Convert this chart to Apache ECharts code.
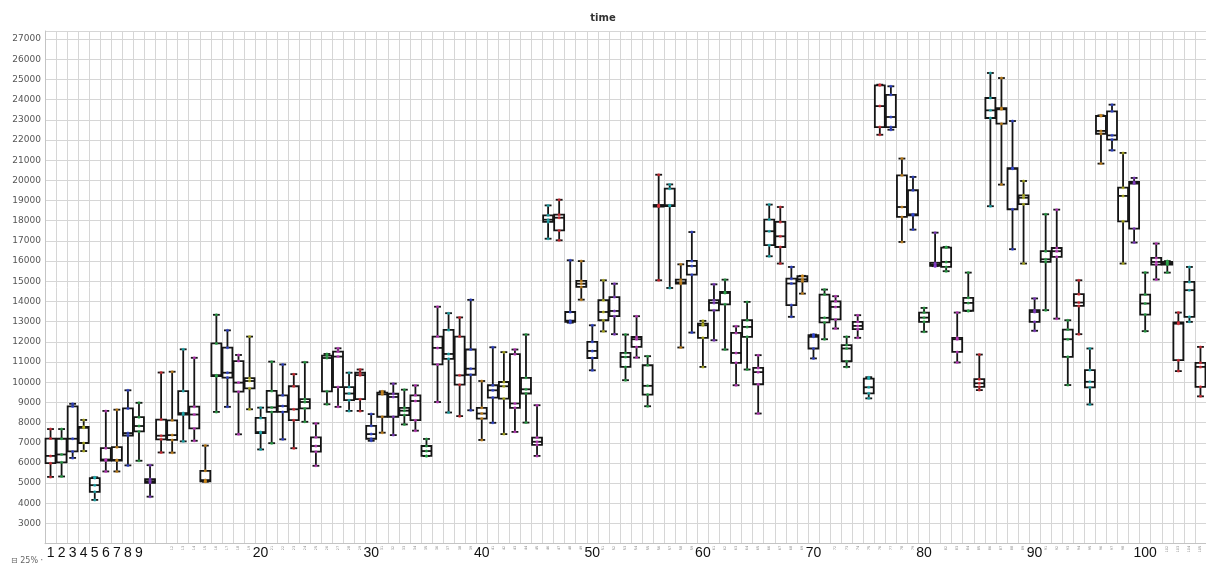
<!DOCTYPE html>
<html>
<head>
<meta charset="utf-8">
<title>time</title>
<script src="https://cdn.jsdelivr.net/npm/echarts@6/dist/echarts.min.js"></script>
<style>
  html, body { margin: 0; padding: 0; background: #fff; }
  #chart { width: 1206px; height: 569px; }
</style>
</head>
<body>
<div id="chart"></div>
<script>
// Run numbers 1..105 on the x axis
const categories = Array.from({ length: 105 }, (_, i) => String(i + 1));

// Five-number summary of "time" for each run
const whiskerLow = [
  5310, 5330, 6250, 6590, 4170, 5580, 5580, 5880, 6110, 4330,
  6520, 6510, 7070, 7100, 5070, 8530, 8780, 7420, 8660, 6670,
  6980, 7170, 6730, 8040, 5860, 8910, 8780, 8580, 8580, 7100,
  7500, 7380, 7910, 7600, 6340, 9020, 8500, 8320, 8610, 7140,
  7990, 7430, 7540, 8000, 6350, 17110, 17030, 12950, 14090, 10590,
  12520, 12380, 10100, 11220, 8810, 15050, 14670, 11720, 12460, 10760,
  12080, 11620, 9850, 10630, 8450, 16240, 15880, 13240, 14390, 11180,
  12130, 12660, 10760, 12200, 9200, 22260, 22510, 16950, 17560, 12500,
  15750, 15500, 10980, 13530, 9610, 18720, 19790, 16590, 15880, 12550,
  13570, 13150, 9860, 12380, 8900, 20830, 21490, 15880, 16920, 12530,
  15090, 15430, 10550, 12990, 9300
];
const quartile1 = [
  5990, 6030, 6570, 6990, 4570, 6120, 6120, 7360, 7560, 5020,
  7170, 7140, 8400, 7710, 5090, 10300, 10230, 9530, 9700, 7480,
  8530, 8530, 8120, 8700, 6560, 9550, 9760, 9110, 9160, 7200,
  8290, 8290, 8370, 8120, 6350, 10880, 11160, 9880, 10370, 8200,
  9240, 9190, 8730, 9440, 6900, 17940, 17520, 12990, 14720, 11200,
  13070, 13270, 10760, 11750, 9390, 18700, 18730, 14880, 15330, 12200,
  13560, 13860, 10960, 12250, 9900, 16790, 16700, 13820, 15000, 11670,
  12960, 13110, 11040, 12630, 9450, 22640, 22640, 18190, 18270, 12990,
  15760, 15710, 11500, 13540, 9770, 23090, 22810, 18570, 18820, 12990,
  15960, 16210, 11260, 13780, 9740, 22310, 22020, 17970, 17610, 13350,
  15830, 15830, 11090, 13240, 9770
];
const median = [
  6350, 6420, 7200, 7740, 4900, 6170, 6150, 7480, 7830, 5100,
  7350, 7380, 8470, 8400, 5150, 10350, 10470, 9980, 10060, 7530,
  8750, 8820, 8660, 9020, 6840, 11200, 11270, 9440, 10350, 7430,
  9400, 9270, 8590, 9070, 6590, 11700, 11400, 10340, 10670, 8450,
  9600, 9800, 8950, 9650, 7050, 18050, 18150, 13050, 14880, 11550,
  13480, 13530, 11250, 12130, 9820, 18740, 18770, 14950, 15760, 12820,
  13930, 14420, 11450, 12740, 10500, 17480, 17230, 14890, 15100, 12250,
  13190, 13730, 11670, 12790, 9750, 23680, 23140, 18680, 18320, 13200,
  15830, 15960, 12130, 13930, 9950, 23470, 23520, 20570, 19140, 13480,
  16090, 16490, 12130, 13950, 10020, 22450, 22230, 19230, 19840, 13900,
  15960, 15900, 12900, 14560, 10760
];
const quartile3 = [
  7210, 7200, 8800, 7790, 5250, 6730, 6780, 8700, 8270, 5200,
  8150, 8110, 9560, 8790, 5610, 11920, 11710, 11050, 10200, 8230,
  9570, 9350, 9800, 9160, 7270, 11320, 11520, 9760, 10470, 7840,
  9480, 9430, 8730, 9350, 6840, 12260, 12590, 12260, 11620, 8730,
  9850, 10010, 11390, 10220, 7260, 18270, 18300, 13480, 15020, 12000,
  14060, 14220, 11450, 12240, 10840, 18780, 19590, 15080, 16010, 12900,
  14060, 14470, 12440, 13070, 10710, 18060, 17940, 15130, 15250, 12330,
  14340, 14010, 11840, 12990, 10180, 24710, 24240, 20250, 19510, 13450,
  15910, 16670, 12200, 14180, 10150, 24080, 23580, 20610, 19260, 13570,
  16490, 16650, 12610, 14360, 10600, 23190, 23420, 19640, 19920, 14340,
  16160, 15960, 12960, 14970, 10960
];
const whiskerHigh = [
  7680, 7680, 8930, 8130, 5290, 8580, 8640, 9600, 8980, 5890,
  10480, 10520, 11630, 11210, 6860, 13340, 12570, 11350, 12260, 8740,
  11020, 10880, 10400, 10990, 7960, 11400, 11680, 10470, 10630, 8420,
  9550, 9930, 9630, 9840, 7190, 13740, 13420, 13210, 14080, 10060,
  11730, 11490, 11620, 12360, 8860, 18760, 19040, 16040, 16000, 12820,
  15050, 14880, 12360, 13270, 11290, 20280, 19800, 15840, 17440, 13040,
  14850, 15080, 12770, 13980, 11340, 18800, 18680, 15710, 15270, 12360,
  14590, 14260, 12250, 13320, 10250, 24740, 24660, 21080, 20170, 13680,
  17410, 16700, 13450, 15430, 11370, 25320, 25070, 22940, 19970, 14150,
  18320, 18550, 13070, 15050, 11670, 23220, 23750, 21360, 20120, 15430,
  16870, 16000, 13450, 15710, 11750
];

// Y axis tick labels
const yTickLabels = [3000, 4000, 5000, 6000, 7000, 8000, 9000, 10000, 11000, 12000, 13000,
  14000, 15000, 16000, 17000, 18000, 19000, 20000, 21000, 22000, 23000, 24000, 25000, 26000, 27000];

// Runs whose number is printed large under the axis
const majorRuns = ['1', '2', '3', '4', '5', '6', '7', '8', '9',
  '20', '30', '40', '50', '60', '70', '80', '90', '100'];
// Runs with no label at all (crowded out by a neighbour)
const unlabeledRuns = ['10', '11', '71', '81', '99', '101'];

// Dot colour per run (one letter per run)
const dotPalette = {
  r: '#e0303a', g: '#2aa84a', b: '#3348d8', o: '#d08a1c',
  t: '#1fb3b8', m: '#c83cc8', p: '#8a3fd0', y: '#b8b820'
};
const dotCodes = 'rgbytmobgp' + 'rotmogbmyt' + 'gbrgmgmtrb' + 'opgmgmtrbo' + 'bymgmtrbob' +
  'ypgmgrtoby' + 'pgmgmtrbob' + 'gmgmtrbobg' + 'pgmgrtobyp' + 'gmgrtobypg' + 'mgrtr';

const boxData = categories.map((c, i) =>
  [i, whiskerLow[i], quartile1[i], median[i], quartile3[i], whiskerHigh[i]]);

const dotData = [];
categories.forEach((c, i) => {
  [whiskerLow, quartile1, median, quartile3, whiskerHigh].forEach(arr => dotData.push([i, arr[i]]));
});

const chart = echarts.init(document.getElementById('chart'), null, { renderer: 'canvas' });

const gridColor = '#d6d6d6';

function renderBox(params, api) {
  const idx = api.value(0);
  const pMin = api.coord([idx, api.value(1)]);
  const pQ1 = api.coord([idx, api.value(2)]);
  const pMed = api.coord([idx, api.value(3)]);
  const pQ3 = api.coord([idx, api.value(4)]);
  const pMax = api.coord([idx, api.value(5)]);
  const band = api.size([1, 0])[0];
  const bw = band * 0.9;
  const cw = band * 0.62;
  const x = pMed[0];
  const line = { stroke: '#151515', lineWidth: 1.8 };
  return {
    type: 'group',
    children: [
      { type: 'line', shape: { x1: x, y1: pMax[1], x2: x, y2: pQ3[1] }, style: line },
      { type: 'line', shape: { x1: x, y1: pQ1[1], x2: x, y2: pMin[1] }, style: line },
      { type: 'line', shape: { x1: x - cw / 2, y1: pMax[1], x2: x + cw / 2, y2: pMax[1] }, style: line },
      { type: 'line', shape: { x1: x - cw / 2, y1: pMin[1], x2: x + cw / 2, y2: pMin[1] }, style: line },
      { type: 'rect', shape: { x: x - bw / 2, y: pQ3[1], width: bw, height: pQ1[1] - pQ3[1] },
        style: { fill: '#ffffff', stroke: '#151515', lineWidth: 1.8 } },
      { type: 'line', shape: { x1: x - bw / 2, y1: pMed[1], x2: x + bw / 2, y2: pMed[1] }, style: line }
    ]
  };
}

chart.setOption({
  animation: false,
  backgroundColor: '#ffffff',
  title: {
    text: 'time',
    left: 'center',
    top: 8,
    textStyle: { fontFamily: 'DejaVu Sans', fontSize: 10, fontWeight: 'bold', color: '#333' }
  },
  grid: { left: 45, right: -4, top: 31, height: 512.7, containLabel: false },
  xAxis: [
    {
      type: 'category',
      position: 'bottom',
      data: categories,
      boundaryGap: true,
      axisLine: { show: true, lineStyle: { color: '#c4c4c4', width: 1 } },
      axisTick: { show: false },
      splitLine: { show: true, interval: 0, lineStyle: { color: gridColor, width: 1 } },
      axisLabel: {
        interval: 0,
        margin: 2,
        fontFamily: 'Liberation Sans',
        fontSize: 14,
        color: '#111',
        formatter: v => (majorRuns.includes(v) ? v : '')
      }
    },
    {
      type: 'category',
      position: 'bottom',
      data: categories,
      boundaryGap: true,
      axisLine: { show: false },
      axisTick: { show: false },
      splitLine: { show: false },
      axisLabel: {
        interval: 0,
        margin: 2,
        rotate: 90,
        fontFamily: 'DejaVu Sans',
        fontSize: 3.5,
        color: '#8a8a8a',
        formatter: v => (majorRuns.includes(v) || unlabeledRuns.includes(v) ? '' : v)
      }
    }
  ],
  yAxis: {
    type: 'value',
    min: 2000,
    max: 27400,
    interval: 1000,
    axisLine: { show: true, lineStyle: { color: '#c4c4c4', width: 1 } },
    axisTick: { show: false },
    splitLine: { show: true, lineStyle: { color: gridColor, width: 1 } },
    axisLabel: {
      margin: 4,
      fontFamily: 'DejaVu Sans',
      fontSize: 9,
      color: '#555',
      formatter: v => (yTickLabels.includes(v) ? String(v) : '')
    }
  },
  series: [
    {
      type: 'custom',
      name: 'time',
      xAxisIndex: 0,
      renderItem: renderBox,
      encode: { x: 0, y: [1, 2, 3, 4, 5] },
      data: boxData,
      z: 2
    },
    {
      type: 'scatter',
      xAxisIndex: 0,
      symbol: 'circle',
      symbolSize: 3,
      data: dotData,
      itemStyle: { color: p => dotPalette[dotCodes[p.data[0]]] },
      z: 3
    }
  ],
  graphic: [
    {
      type: 'text',
      left: 11,
      top: 557,
      style: { text: '\u229f 25% \u00b7', fill: '#666', font: '8px "DejaVu Sans"' }
    }
  ]
});
</script>
</body>
</html>
